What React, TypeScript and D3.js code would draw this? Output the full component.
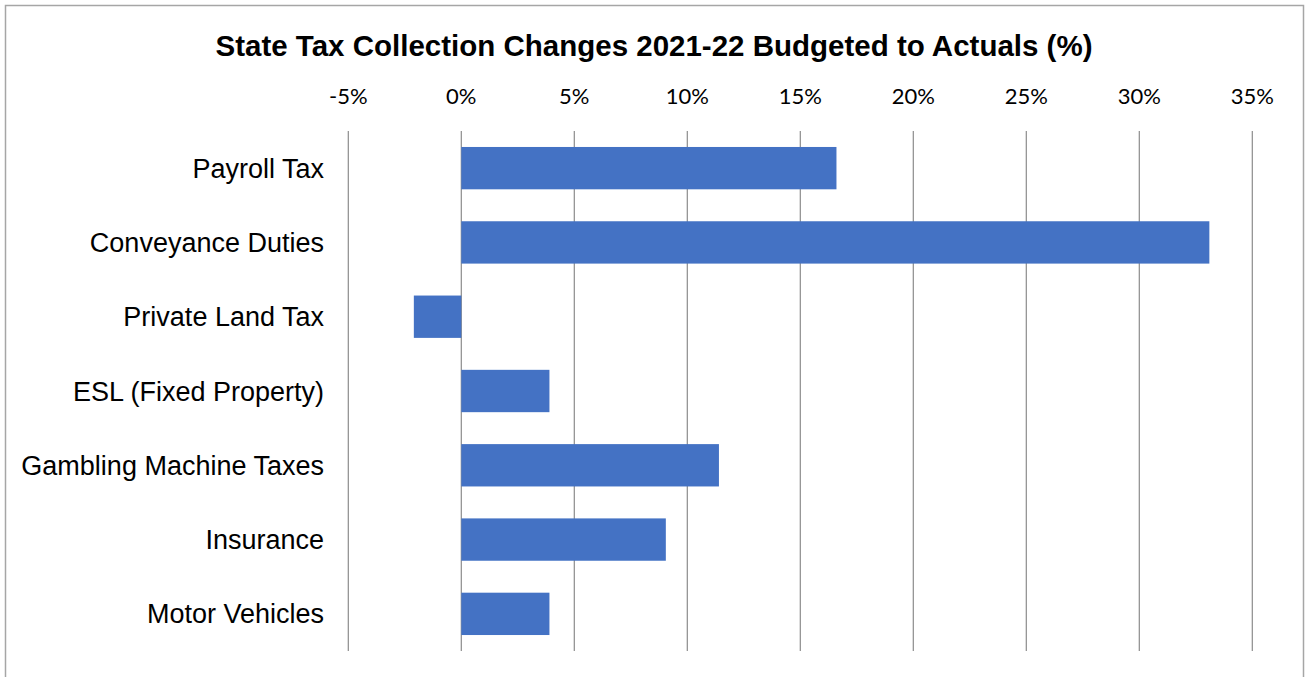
import React from "react";
import * as d3 from "d3";

const title = "State Tax Collection Changes 2021-22 Budgeted to Actuals (%)";
const categories = [
  "Payroll Tax",
  "Conveyance Duties",
  "Private Land Tax",
  "ESL (Fixed Property)",
  "Gambling Machine Taxes",
  "Insurance",
  "Motor Vehicles",
];
const values = [16.6, 33.1, -2.1, 3.9, 11.4, 9.05, 3.9];
const tickValues = [-5, 0, 5, 10, 15, 20, 25, 30, 35];

const W = 1306;
const H = 677;

export default function App() {
  const x = d3.scaleLinear().domain([-5, 35]).range([348.3, 1252.3]);
  const y = d3
    .scaleBand<string>()
    .domain(categories)
    .range([131, 651])
    .paddingInner(0.43)
    .paddingOuter(0.215);

  return (
    <svg
      width={W}
      height={H}
      style={{ position: "absolute", left: 0, top: 0, display: "block" }}
    >
      <rect x={0} y={0} width={W} height={H} fill="#fff" />
      <rect
        x={5.5}
        y={5.5}
        width={1298}
        height={H + 10}
        fill="none"
        stroke="#a6a6a6"
        strokeWidth={1.5}
      />
      <text
        x={654}
        y={56}
        textAnchor="middle"
        fontFamily="'Liberation Sans', Arial, sans-serif"
        fontWeight="bold"
        fontSize={29.5}
        fill="#000"
      >
        {title}
      </text>
      {tickValues.map((t) => (
        <g key={t}>
          <line
            x1={x(t)}
            x2={x(t)}
            y1={131}
            y2={651}
            stroke="#8c8c8c"
            strokeWidth={1.2}
          />
          <text
            x={x(t)}
            y={104}
            textAnchor="middle"
            fontFamily="Lato, 'Open Sans', sans-serif"
            fontSize={22}
            fill="#000"
          >
            {`${t}%`}
          </text>
        </g>
      ))}
      {categories.map((c, i) => {
        const v = values[i];
        const x0 = x(Math.min(0, v));
        const x1 = x(Math.max(0, v));
        return (
          <g key={c}>
            <rect
              x={x0}
              y={y(c)!}
              width={x1 - x0}
              height={y.bandwidth()}
              fill="#4472c4"
            />
            <text
              x={324}
              y={y(c)! + y.bandwidth() / 2 + 9.5}
              textAnchor="end"
              fontFamily="'Liberation Sans', Arial, sans-serif"
              fontSize={27}
              fill="#000"
            >
              {c}
            </text>
          </g>
        );
      })}
    </svg>
  );
}
